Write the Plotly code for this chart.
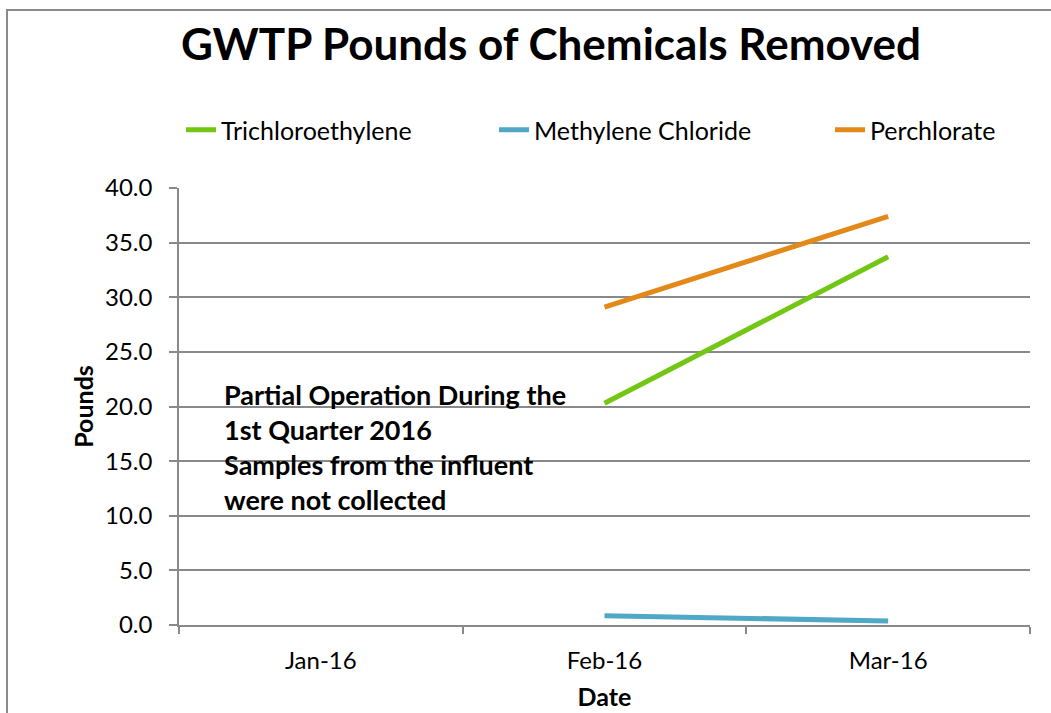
import plotly.graph_objects as go

months = ["Jan-16", "Feb-16", "Mar-16"]
tce = [None, 20.3, 33.7]
mc = [None, 0.85, 0.37]
perc = [None, 29.1, 37.4]
y_ticks = [0, 5, 10, 15, 20, 25, 30, 35, 40]

W, H = 1051, 713
L, R, T, B = 179, 1030, 188, 625
pw, ph = R - L, B - T


def px(x):
    return (x - L) / pw


def py(y):
    return (B - y) / ph


FONT = "Lato"
GRAY = "#898989"

series = [
    ("Trichloroethylene", tce, "#72C614", "legend", 189),
    ("Methylene Chloride", mc, "#4FA8C6", "legend2", 502),
    ("Perchlorate", perc, "#E2891A", "legend3", 838),
]

fig = go.Figure()
for name, vals, col, lg, _ in series:
    fig.add_trace(go.Scatter(x=months, y=vals, name=name, mode="lines", legend=lg,
                             line=dict(color=col, width=5), connectgaps=False))

legend_common = dict(orientation="h", yanchor="middle", y=py(130), xanchor="left",
                     font=dict(size=25, family=FONT, color="black"),
                     bgcolor="rgba(0,0,0,0)", borderwidth=0)
for _, _, _, lg, lx in series:
    fig.update_layout({lg: dict(legend_common, x=px(lx - 8))})

fig.update_layout(
    width=W, height=H,
    margin=dict(l=L, r=W - R, t=T, b=H - B, autoexpand=False),
    paper_bgcolor="white", plot_bgcolor="white",
    font=dict(family=FONT, size=24, color="black"),
    title=dict(text="<b>GWTP Pounds of Chemicals Removed</b>",
               font=dict(size=44, family=FONT, color="black"),
               x=px(551), xref="paper", xanchor="center",
               y=1 - 45 / H, yanchor="middle"),
    showlegend=True,
)
fig.update_xaxes(type="category", tickson="boundaries", ticks="outside", ticklen=7,
                 tickcolor=GRAY, tickwidth=1.5, showline=True, linecolor=GRAY,
                 linewidth=1.5, showgrid=False, range=[-0.5, 2.5],
                 ticklabelstandoff=13, automargin=False,
                 title=dict(text="<b>Date</b>", font=dict(size=25), standoff=16),
                 tickfont=dict(size=24))
fig.update_yaxes(range=[0, 40], tickvals=y_ticks, tickformat=".1f", ticks="outside",
                 ticklen=8, tickcolor=GRAY, tickwidth=1.5, showline=True,
                 linecolor=GRAY, linewidth=1.5, showgrid=True, gridcolor=GRAY,
                 gridwidth=1.5, zeroline=False, ticklabelstandoff=12, automargin=False,
                 title=dict(text="<b>Pounds</b>", font=dict(size=25), standoff=4),
                 tickfont=dict(size=24))

fig.add_annotation(
    text="<b>Partial Operation During the<br>1st Quarter 2016<br>Samples from the influent<br>were not collected</b>",
    xref="paper", yref="paper", x=px(222), y=py(376), xanchor="left", yanchor="top",
    align="left", showarrow=False, font=dict(size=27, family=FONT, color="black"))

fig.add_shape(type="rect", xref="paper", yref="paper",
              x0=px(7), y0=py(730), x1=px(1070), y1=py(10),
              line=dict(color="#8a8a8a", width=2), fillcolor="rgba(0,0,0,0)", layer="below")

fig.write_html("out.html", config={"displayModeBar": False},
               post_script="document.body.style.margin='0px';")
